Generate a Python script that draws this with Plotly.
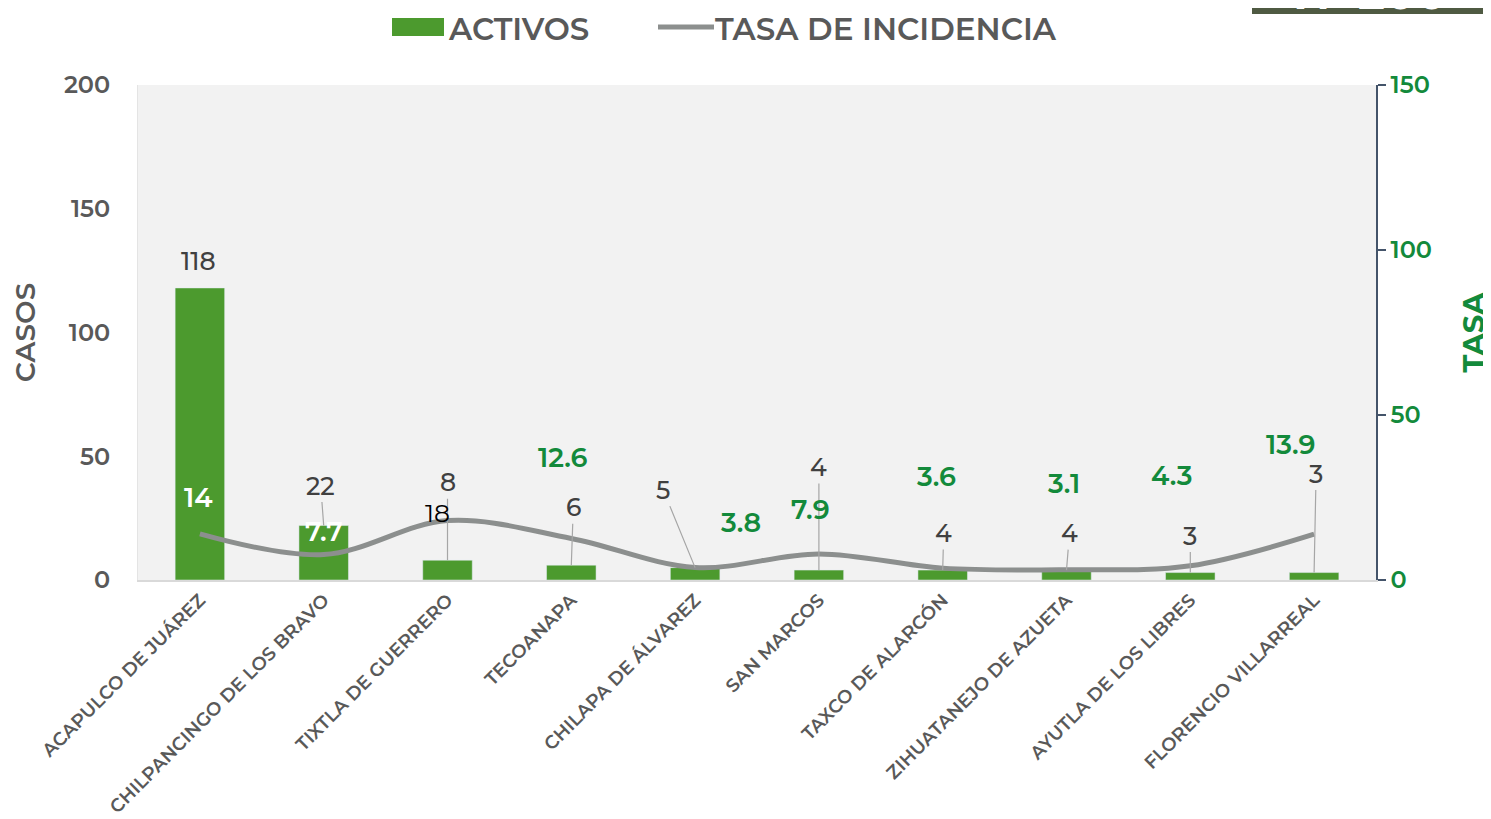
import plotly.graph_objects as go

municipios = ["ACAPULCO DE JUÁREZ", "CHILPANCINGO DE LOS BRAVO", "TIXTLA DE GUERRERO",
              "TECOANAPA", "CHILAPA DE ÁLVAREZ", "SAN MARCOS", "TAXCO DE ALARCÓN",
              "ZIHUATANEJO DE AZUETA", "AYUTLA DE LOS LIBRES", "FLORENCIO VILLARREAL"]
activos = [118, 22, 8, 6, 5, 4, 4, 4, 3, 3]
tasa = [14, 7.7, 18, 12.6, 3.8, 7.9, 3.6, 3.1, 4.3, 13.9]
total_label = "N=200"

# label placement (pixel offsets) - styling only
bar_ax = [-1, -3, 0, 2, -32, 0, 1, 3, 0, 2]
bar_ay = [-27, -40, -78, -58, -78, -103, -37, -37, -37, -99]
bar_leader = [False, True, True, True, True, True, True, True, True, True]
tasa_dx = [-1, 0, -10, -8, 46, -8, -6, -3, -19, -23]
tasa_dy = [36, 23, 8, 81, 45, 44, 92, 86, 90, 90]
tasa_col = ["white", "white", "black", "#138A3B", "#138A3B", "#138A3B", "#138A3B", "#138A3B", "#138A3B", "#138A3B"]

FONT = "Montserrat, 'Open Sans', sans-serif"
GREEN_BAR = "#4C9A2E"
GREEN_TXT = "#138A3B"
GRAY_TXT = "#595959"
LINE_GRAY = "#8C8F8E"

fig = go.Figure()
fig.add_trace(go.Bar(x=municipios, y=activos, name="ACTIVOS", marker_color=GREEN_BAR,
                     width=0.4, yaxis="y"))
fig.add_trace(go.Scatter(x=municipios, y=tasa, name="TASA DE INCIDENCIA", mode="lines",
                         line=dict(color=LINE_GRAY, width=5, shape="spline", smoothing=1),
                         yaxis="y2"))

ann = []
for i, (m, v) in enumerate(zip(municipios, activos)):
    ann.append(dict(x=m, y=v, xref="x", yref="y", text=str(v), showarrow=True,
                    arrowhead=0, arrowwidth=1.2,
                    arrowcolor="#A6A6A6" if bar_leader[i] else "rgba(0,0,0,0)",
                    ax=bar_ax[i], ay=bar_ay[i],
                    font=dict(family=FONT, size=25, color="#404040", weight=500)))
for i, (m, v) in enumerate(zip(municipios, tasa)):
    bold = tasa_col[i] != "black"
    ann.append(dict(x=m, y=v, xref="x", yref="y2", text=f"{v:g}", showarrow=False,
                    xshift=tasa_dx[i], yshift=tasa_dy[i],
                    font=dict(family=FONT, size=27 if bold else 25, color=tasa_col[i],
                              weight=600 if bold else 400)))

# legend (manual), positions given in page pixels of the plot frame
W, H, L, T = 1238.0, 495.0, 138.0, 85.0
def px(x):
    return (x - L) / W
def py(y):
    return (T + H - y) / H

shapes = [
    dict(type="rect", xref="paper", yref="paper", x0=px(392), x1=px(444), y0=py(36), y1=py(18),
         fillcolor=GREEN_BAR, line_width=0),
    dict(type="line", xref="paper", yref="paper", x0=px(658), x1=px(714), y0=py(27), y1=py(27),
         line=dict(color=LINE_GRAY, width=5)),
    dict(type="rect", xref="paper", yref="paper", x0=px(1252), x1=px(1500), y0=py(14), y1=py(-40),
         fillcolor="#4F5A42", line_width=0),
]
ann.append(dict(xref="paper", yref="paper", x=px(446), y=py(29), xanchor="left", yanchor="middle",
                text="ACTIVOS", showarrow=False,
                font=dict(family=FONT, size=31, color=GRAY_TXT, weight=600)))
ann.append(dict(xref="paper", yref="paper", x=px(713), y=py(29), xanchor="left", yanchor="middle",
                text="TASA DE INCIDENCIA", showarrow=False,
                font=dict(family=FONT, size=31, color=GRAY_TXT, weight=600)))
ann.append(dict(xref="paper", yref="paper", x=px(1370), y=py(23), xanchor="center", yanchor="bottom",
                text=total_label, showarrow=False,
                font=dict(family=FONT, size=46, color="white", weight=700)))

fig.update_layout(
    width=1483, height=811,
    margin=dict(l=130, r=115, t=77, b=239, autoexpand=False),
    paper_bgcolor="white", plot_bgcolor="#F2F2F2",
    showlegend=False,
    bargap=0.6,
    font=dict(family=FONT, color=GRAY_TXT),
    xaxis=dict(tickangle=-45, tickfont=dict(size=18.5, color=GRAY_TXT, family=FONT, weight=600),
               showline=True, linecolor="#D9D9D9", linewidth=2, ticks="", showgrid=False,
               automargin=False),
    yaxis=dict(range=[0, 200], dtick=50, showgrid=False, zeroline=False, showline=True,
               linecolor="#E4E4E4", linewidth=1, automargin=False,
               tickfont=dict(size=24, color=GRAY_TXT, family=FONT, weight=600),
               ticklabelstandoff=22,
               title=dict(text="CASOS", font=dict(size=28, color=GRAY_TXT, family=FONT, weight=600),
                          standoff=24)),
    yaxis2=dict(range=[0, 150], dtick=50, overlaying="y", side="right", showgrid=False,
                zeroline=False, showline=True, linecolor="#44546A", linewidth=1.5,
                ticks="outside", ticklen=8, tickcolor="#44546A", tickwidth=1.5, automargin=False,
                tickfont=dict(size=24, color=GREEN_TXT, family=FONT, weight=600),
                title=dict(text="TASA", font=dict(size=29, color=GREEN_TXT, family=FONT, weight=700),
                           standoff=36)),
    annotations=ann, shapes=shapes,
)

fig.write_html("out.html")
